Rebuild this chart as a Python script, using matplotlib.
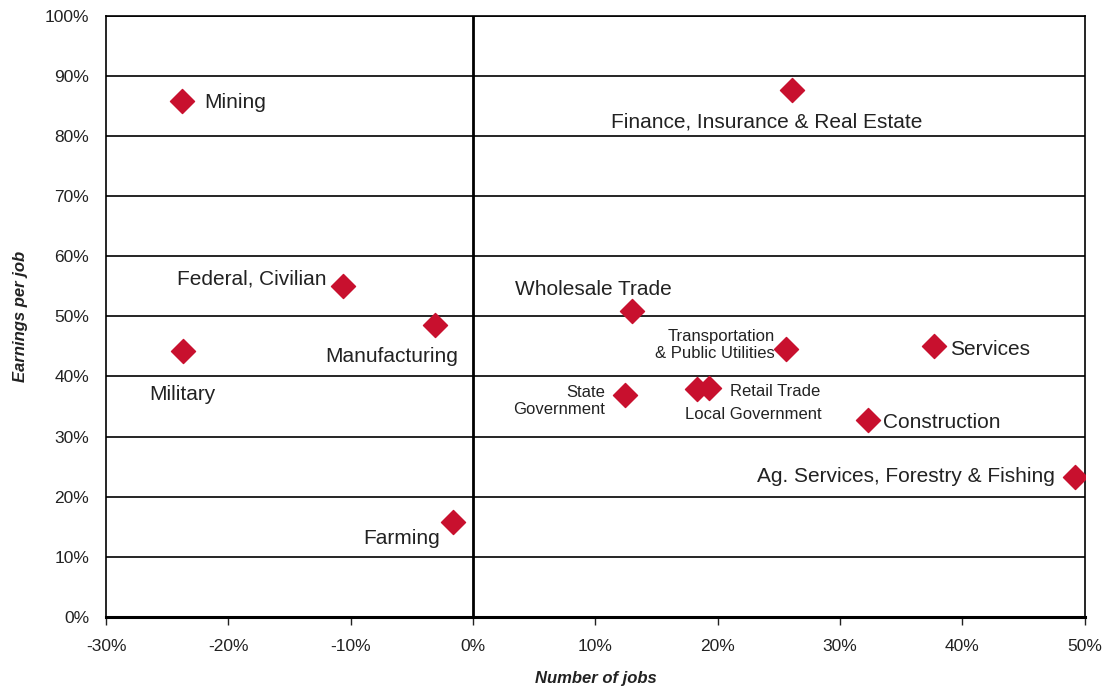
import matplotlib.pyplot as plt
from matplotlib.ticker import PercentFormatter

plt.rcParams['font.family'] = ['Liberation Sans Narrow', 'Liberation Sans', 'DejaVu Sans']
plt.rcParams['axes.unicode_minus'] = False

# industry, change in number of jobs (%), change in earnings per job (%)
industries = ["Mining", "Finance, Insurance & Real Estate", "Federal, Civilian",
              "Manufacturing", "Military", "Wholesale Trade",
              "Transportation\n& Public Utilities", "Services", "State\nGovernment",
              "Retail Trade", "Local Government", "Construction",
              "Ag. Services, Forestry & Fishing", "Farming"]
jobs = [-23.8, 26.1, -10.6, -3.1, -23.7, 13.0, 25.6, 37.7, 12.4, 19.3, 18.3, 32.3, 49.2, -1.6]
earnings = [85.9, 87.7, 55.1, 48.6, 44.3, 50.9, 44.6, 45.1, 36.9, 38.1, 37.9, 32.8, 23.3, 15.8]

# label placement: offset in pixels, alignment, font size
label_style = {
    "Mining": ((22, -2), 'left', 15),
    "Finance, Insurance & Real Estate": ((-26, -32), 'center', 15),
    "Federal, Civilian": ((-17, 7), 'right', 15),
    "Manufacturing": ((23, -32), 'right', 15),
    "Military": ((-1, -44), 'center', 15),
    "Wholesale Trade": ((-39, 21), 'center', 15),
    "Transportation\n& Public Utilities": ((-11, 4), 'right', 12),
    "Services": ((16, -4), 'left', 15),
    "State\nGovernment": ((-20, -6), 'right', 12),
    "Retail Trade": ((21, -4), 'left', 12),
    "Local Government": ((56, -25), 'center', 12),
    "Construction": ((15, -3), 'left', 15),
    "Ag. Services, Forestry & Fishing": ((-20, 0), 'right', 15),
    "Farming": ((-13, -17), 'right', 15),
}

fig = plt.figure(figsize=(11.16, 6.9), dpi=100)
ax = fig.add_axes([0.095, 0.106, 0.877, 0.871])

ax.set_xlim(-30, 50)
ax.set_ylim(0, 100)
ax.set_xticks(range(-30, 51, 10))
ax.set_yticks(range(0, 101, 10))
ax.xaxis.set_major_formatter(PercentFormatter(decimals=0))
ax.yaxis.set_major_formatter(PercentFormatter(decimals=0))

ax.grid(axis='y', color='black', linewidth=1.2)
ax.set_axisbelow(True)
ax.axvline(0, color='black', linewidth=2, zorder=1)

for s in ['top', 'right', 'left']:
    ax.spines[s].set_linewidth(1.2)
ax.spines['bottom'].set_linewidth(2.2)
ax.tick_params(axis='both', labelsize=12.5, colors='#222222', direction='out')
ax.tick_params(axis='x', length=6, width=1, pad=10)
ax.tick_params(axis='y', length=0, pad=12)

ax.scatter(jobs, earnings, marker='D', s=150, color='#C8102E', zorder=3)

for name, x, y in zip(industries, jobs, earnings):
    (dx, dy), ha, fs = label_style[name]
    ax.annotate(name, (x, y), xytext=(dx, dy), textcoords='offset pixels',
                ha=ha, va='center', fontsize=fs, color='#222222', multialignment=ha)

ax.set_xlabel('Number of jobs', fontsize=12, fontweight='bold', fontstyle='italic',
              color='#222222', labelpad=12)
ax.set_ylabel('Earnings per job', fontsize=12, fontweight='bold', fontstyle='italic',
              color='#222222', labelpad=12)

fig.savefig('out.png', dpi=100)
